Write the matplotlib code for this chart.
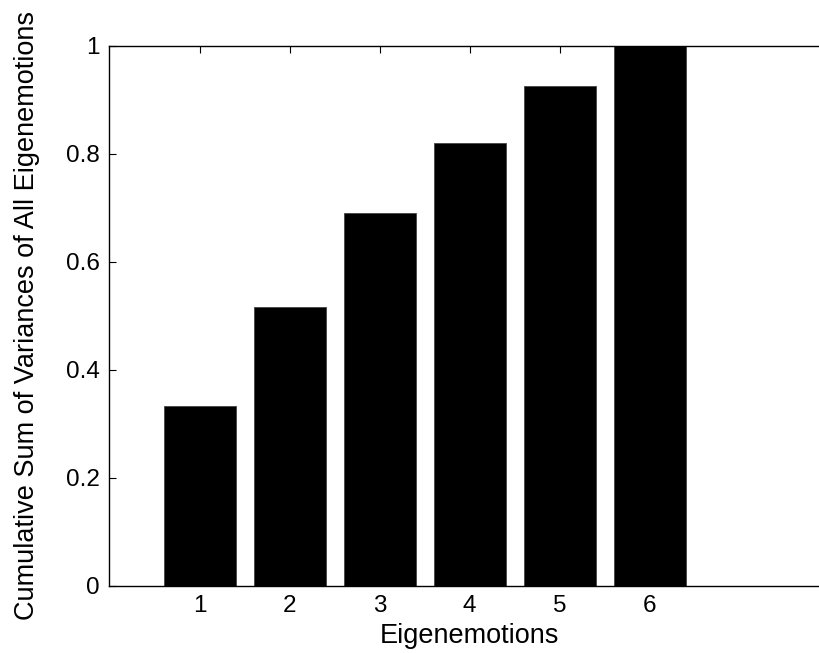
import matplotlib
matplotlib.use("Agg")
import matplotlib.pyplot as plt

# Cumulative share of variance explained by each eigenemotion
components = [1, 2, 3, 4, 5, 6]
cumulative_variance = [0.333, 0.517, 0.691, 0.820, 0.926, 1.0]
y_ticks = [0, 0.2, 0.4, 0.6, 0.8, 1]
y_tick_labels = ["0", "0.2", "0.4", "0.6", "0.8", "1"]

plt.rcParams["font.family"] = ["Liberation Sans", "DejaVu Sans"]

fig = plt.figure(figsize=(8.2, 6.53), dpi=100)
ax = fig.add_axes([109.5 / 820, 67.3 / 653, 720.2 / 820, 540 / 653])

ax.bar(components, cumulative_variance, width=0.8, color="black",
       edgecolor="#444444", linewidth=0.6)

ax.set_xlim(0, 8)
ax.set_ylim(0, 1)
ax.set_xticks(components)
ax.set_yticks(y_ticks)
ax.set_yticklabels(y_tick_labels)

ax.tick_params(direction="in", length=5, width=0.8, labelsize=17.5,
               top=True, right=True, pad=7)
for spine in ax.spines.values():
    spine.set_linewidth(1.0)

ax.set_xlabel("Eigenemotions", fontsize=19.5, labelpad=4)
ax.set_ylabel("Cumulative Sum of Variances of All Eigenemotions",
              fontsize=19.5, labelpad=19)

fig.savefig("out.png", dpi=100)
